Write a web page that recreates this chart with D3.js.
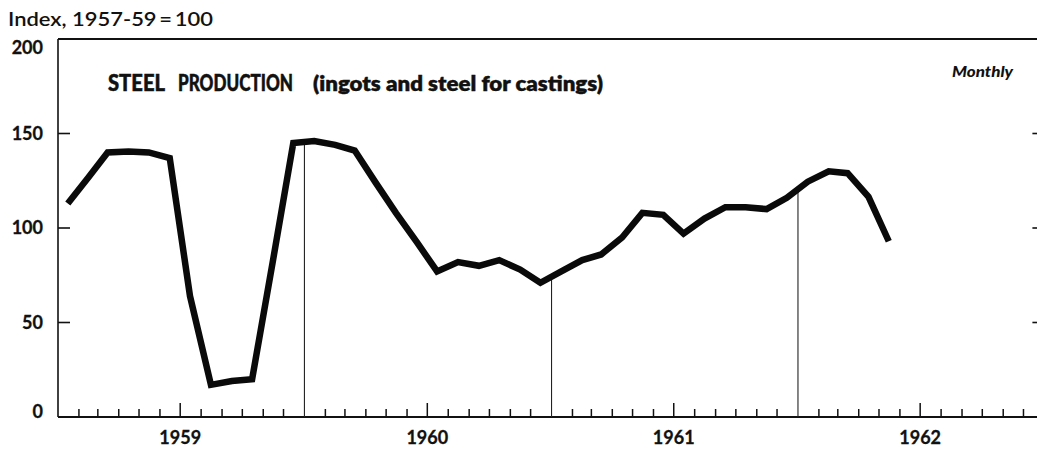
<!DOCTYPE html>
<html><head><meta charset="utf-8">
<script src="https://cdn.jsdelivr.net/npm/d3@7"></script>
<style>
html,body{margin:0;padding:0;background:#fff;}
svg{display:block;}
text{font-family:Lato,"Noto Sans",sans-serif;fill:#111;}
</style></head>
<body>
<svg id="c" width="1037" height="451"></svg>
<script>
// ---- data ----
const months = [
 "1959-01","1959-02","1959-03","1959-04","1959-05","1959-06","1959-07","1959-08","1959-09","1959-10","1959-11","1959-12",
 "1960-01","1960-02","1960-03","1960-04","1960-05","1960-06","1960-07","1960-08","1960-09","1960-10","1960-11","1960-12",
 "1961-01","1961-02","1961-03","1961-04","1961-05","1961-06","1961-07","1961-08","1961-09","1961-10","1961-11","1961-12",
 "1962-01","1962-02","1962-03","1962-04","1962-05"];
const steelIndex = [
 113,127,140,140.5,140,137,64,17,19,20,83,145,
 146,144,141,124,108,92.5,77,82,80,83,78,71,
 77,83,86,95,108,107,97,105,111,111,110,116,
 124.5,130,129,116.5,93];
const yTicks = [0,50,100,150,200];
const yearLabels = ["1959","1960","1961","1962"];
const titleMain = ["STEEL","PRODUCTION"];
const titleSub = "(ingots and steel for castings)";
const unitLabel = "Index, 1957-59\u2009=\u2009100";
const freqLabel = "Monthly";

// ---- layout ----
const svg = d3.select("#c");
const parse = d3.timeParse("%Y-%m");
const data = months.map((m,i)=>{const d=parse(m);return {date:new Date(d.getFullYear(),d.getMonth(),15,12),v:steelIndex[i]};});
const x = d3.scaleTime().domain([new Date(1959,0,1), new Date(1963,0,1)]).range([58, 1044.4]);
const y = d3.scaleLinear().domain([0,200]).range([417, 39]);

// frame: left axis, top line, bottom axis
svg.append("line").attr("x1",x.range()[0]).attr("x2",x.range()[0]).attr("y1",y(200)).attr("y2",y(0)).attr("stroke","#111").attr("stroke-width",1.6);
svg.append("line").attr("x1",x.range()[0]).attr("x2",x.range()[1]).attr("y1",y(200)).attr("y2",y(200)).attr("stroke","#111").attr("stroke-width",2);
svg.append("line").attr("x1",x.range()[0]).attr("x2",x.range()[1]).attr("y1",y(0)).attr("y2",y(0)).attr("stroke","#111").attr("stroke-width",2.2);

// y ticks (left & right, inward)
yTicks.filter(t=>t>0&&t<200).forEach(t=>{
  svg.append("line").attr("x1",x.range()[0]).attr("x2",x.range()[0]+12).attr("y1",y(t)).attr("y2",y(t)).attr("stroke","#111").attr("stroke-width",1.6);
  svg.append("line").attr("x1",x.range()[1]-12).attr("x2",x.range()[1]).attr("y1",y(t)).attr("y2",y(t)).attr("stroke","#111").attr("stroke-width",1.6);
});
const labelShift = {0:-5, 200:9};
yTicks.forEach(t=>{
  svg.append("text").attr("x",43).attr("y",y(t)+(labelShift[t]||0)).attr("dy","0.36em")
    .attr("text-anchor","end").attr("font-size",18).attr("font-weight",700)
    .attr("stroke","#111").attr("stroke-width",0.3).text(t);
});

// month ticks
const monthTicks = d3.timeMonth.range(new Date(1959,1,1), new Date(1963,0,1)).filter(d=>d.getMonth()!==0);
svg.selectAll(".mt").data(monthTicks).enter().append("line")
  .attr("x1",d=>x(d)).attr("x2",d=>x(d)).attr("y1",y(0))
  .attr("y2",d=>y(0)-(d.getMonth()===6?14:8))
  .attr("stroke","#111").attr("stroke-width",1.5);

// year drop lines from axis to curve
function valueAt(date){
  for(let i=0;i<data.length-1;i++){
    if(data[i].date<=date && data[i+1].date>=date){
      const f=(date-data[i].date)/(data[i+1].date-data[i].date);
      return data[i].v+f*(data[i+1].v-data[i].v);
    }
  }
  return null;
}
[1960,1961,1962].forEach(yr=>{
  const d=new Date(yr,0,1); const v=valueAt(d);
  svg.append("line").attr("x1",x(d)).attr("x2",x(d)).attr("y1",y(0)).attr("y2",y(v)).attr("stroke","#222").attr("stroke-width",1.1);
});

// year labels
yearLabels.forEach(yl=>{
  svg.append("text").attr("x",x(new Date(+yl,6,1))).attr("y",438).attr("dy","0.36em")
    .attr("text-anchor","middle").attr("font-size",18).attr("font-weight",700)
    .attr("stroke","#111").attr("stroke-width",0.3).text(yl);
});

// data line
const line = d3.line().x(d=>x(d.date)).y(d=>y(d.v));
svg.append("path").datum(data).attr("d",line).attr("fill","none").attr("stroke","#0a0a0a")
  .attr("stroke-width",6.5).attr("stroke-linejoin","miter").attr("stroke-miterlimit",3).attr("stroke-linecap","butt");

// texts
svg.append("text").attr("x",8).attr("y",26).attr("font-size",19).attr("font-weight",600)
  .attr("textLength",205).attr("lengthAdjust","spacingAndGlyphs").text(unitLabel);
svg.append("text").attr("x",108).attr("y",91).attr("font-size",22).attr("font-weight",900)
  .attr("stroke","#111").attr("stroke-width",0.5)
  .attr("textLength",57).attr("lengthAdjust","spacingAndGlyphs").text(titleMain[0]);
svg.append("text").attr("x",178).attr("y",91).attr("font-size",22).attr("font-weight",900)
  .attr("stroke","#111").attr("stroke-width",0.5)
  .attr("textLength",115).attr("lengthAdjust","spacingAndGlyphs").text(titleMain[1]);
svg.append("text").attr("x",313).attr("y",91).attr("font-size",21).attr("font-weight",800)
  .attr("stroke","#111").attr("stroke-width",0.4)
  .attr("textLength",290).attr("lengthAdjust","spacingAndGlyphs").text(titleSub);
svg.append("text").attr("x",952).attr("y",77).attr("font-size",15.5).attr("font-weight",900).attr("font-style","italic")
  .attr("textLength",61).attr("lengthAdjust","spacingAndGlyphs").text(freqLabel);
</script>
</body></html>
